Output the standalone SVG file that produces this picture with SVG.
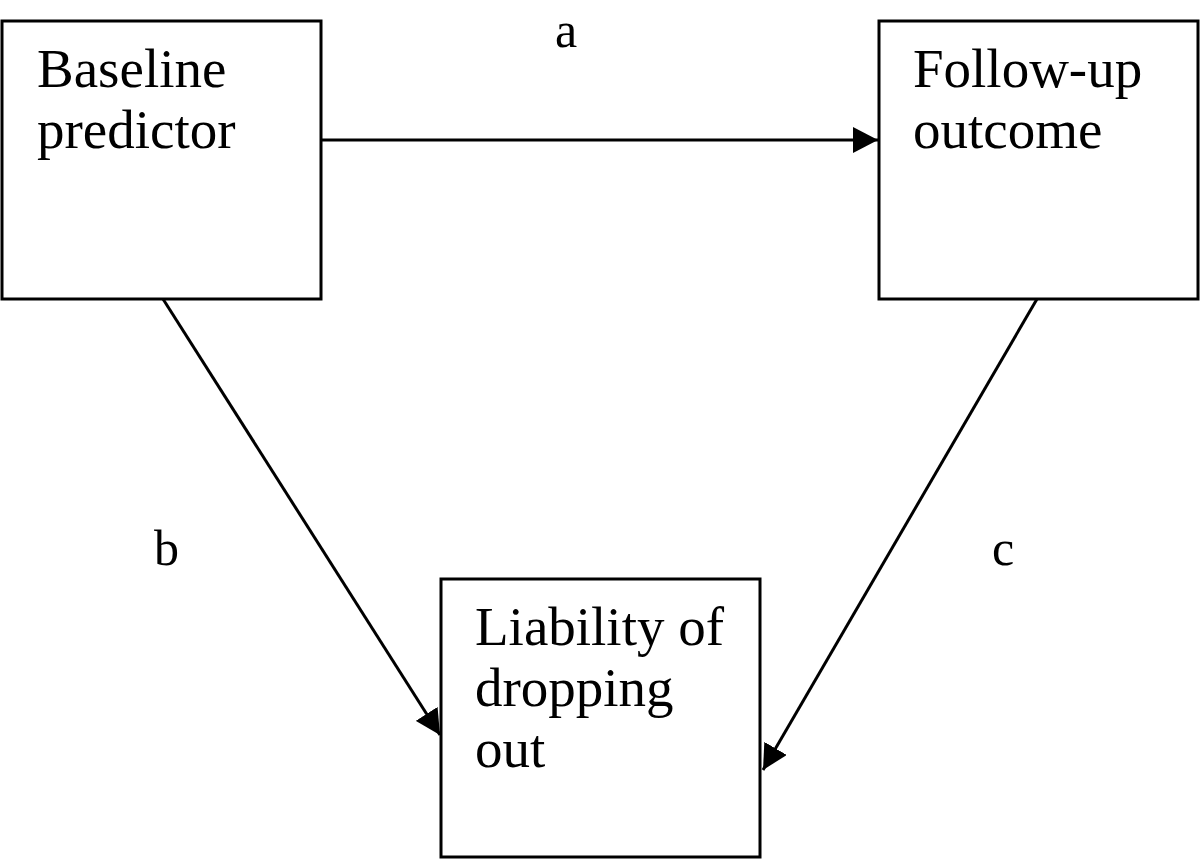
<svg xmlns="http://www.w3.org/2000/svg" width="1200" height="860" viewBox="0 0 1200 860">
<defs>
<style>
.box{fill:#fff;stroke:#000;stroke-width:3}
.t{font-family:"Liberation Serif","Times New Roman",serif;font-size:55px;fill:#000}
.lbl{font-family:"Liberation Serif","Times New Roman",serif;font-size:50px;fill:#000}
.edge{stroke:#000;stroke-width:3;fill:none;marker-end:url(#ah)}
</style>
<marker id="ah" markerUnits="userSpaceOnUse" markerWidth="26" markerHeight="26" refX="25" refY="13" orient="auto">
<path d="M0,0 L25,13 L0,26 z" fill="#000"/>
</marker>
</defs>
<rect width="1200" height="860" fill="#fff"/>
<g id="connectors">
<line class="edge" x1="321" y1="140" x2="878" y2="140"/>
<line class="edge" x1="163" y1="299" x2="440" y2="735"/>
<line class="edge" x1="1037" y1="299" x2="763" y2="770"/>
</g>
<g id="node-baseline">
<rect class="box" x="2" y="21" width="319" height="278"/>
<text class="t" x="37" y="87">Baseline</text>
<text class="t" x="37" y="148">predictor</text>
</g>
<g id="node-followup">
<rect class="box" x="879" y="21" width="319" height="278"/>
<text class="t" x="913" y="87">Follow-up</text>
<text class="t" x="913" y="148">outcome</text>
</g>
<g id="node-liability">
<rect class="box" x="441" y="579" width="319" height="278"/>
<text class="t" x="475" y="645">Liability of</text>
<text class="t" x="475" y="706">dropping</text>
<text class="t" x="475" y="767">out</text>
</g>
<g id="labels">
<text class="lbl" x="555" y="47">a</text>
<text class="lbl" x="154" y="565">b</text>
<text class="lbl" x="992" y="565">c</text>
</g>
</svg>
